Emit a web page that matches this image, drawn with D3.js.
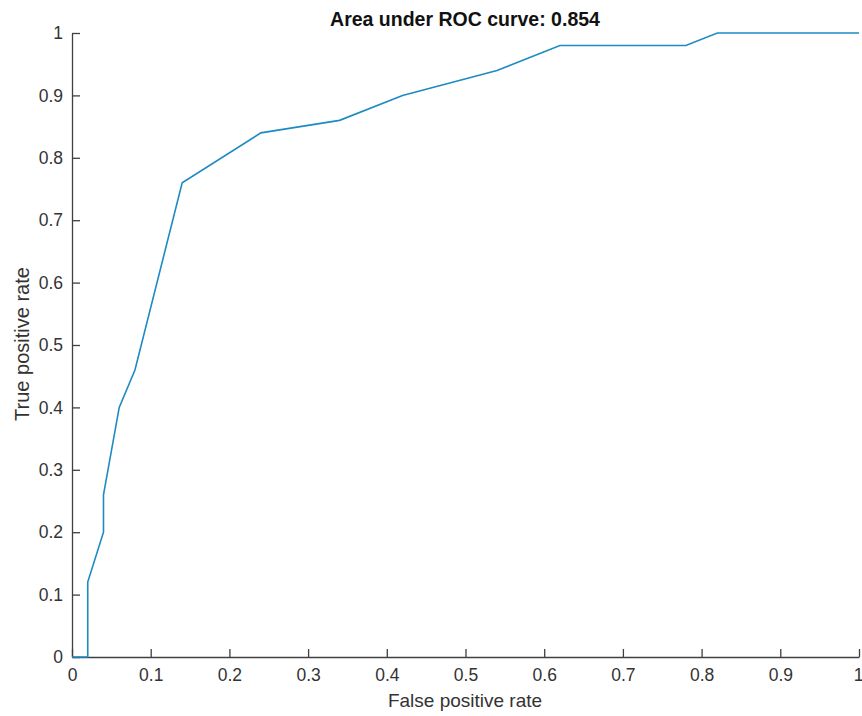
<!DOCTYPE html>
<html><head><meta charset="utf-8">
<script src="https://cdn.jsdelivr.net/npm/d3@7"></script>
<style>body{margin:0;background:#fff;} svg{display:block;}</style>
</head><body>
<svg id="c" width="862" height="716"></svg>
<script>
const fpr = [0, 0.02, 0.02, 0.04, 0.04, 0.06, 0.08, 0.14, 0.24, 0.34, 0.42, 0.54, 0.62, 0.78, 0.82, 1];
const tpr = [0, 0, 0.12, 0.2, 0.26, 0.4, 0.46, 0.76, 0.84, 0.86, 0.9, 0.94, 0.98, 0.98, 1, 1];
const xTicks = [0,0.1,0.2,0.3,0.4,0.5,0.6,0.7,0.8,0.9,1];
const yTicks = [0,0.1,0.2,0.3,0.4,0.5,0.6,0.7,0.8,0.9,1];
const title = "Area under ROC curve: 0.854";
const xLabel = "False positive rate";
const yLabel = "True positive rate";

const svg = d3.select("#c");
const m = {l:72, r:859, t:33, b:657};
const x = d3.scaleLinear().domain([0,1]).range([m.l, m.r]);
const y = d3.scaleLinear().domain([0,1]).range([m.b, m.t]);
const font = "'Liberation Sans', Arial, Helvetica, sans-serif";
const axCol = "#404040";
const fmt = d => d === 0 ? "0" : d === 1 ? "1" : d3.format(".1f")(d);

const xa = svg.append("g").attr("transform", `translate(0,${m.b})`)
  .call(d3.axisBottom(x).tickValues(xTicks).tickFormat(fmt).tickSizeInner(-8).tickSizeOuter(0).tickPadding(12));
const ya = svg.append("g").attr("transform", `translate(${m.l},0)`)
  .call(d3.axisLeft(y).tickValues(yTicks).tickFormat(fmt).tickSizeInner(-8).tickSizeOuter(0).tickPadding(9));
[xa, ya].forEach(a => {
  a.select(".domain").attr("stroke", axCol).attr("stroke-width", 1.3);
  a.selectAll(".tick line").attr("stroke", axCol).attr("stroke-width", 1.3);
  a.selectAll(".tick text").attr("fill", "#333").style("font-family", font).style("font-size", "17.5px");
});
xa.selectAll(".tick text").filter(d => d === 1).attr("text-anchor", "end").attr("dx", "4");

const line = d3.line().x((d,i) => x(fpr[i])).y((d,i) => y(tpr[i]));
svg.append("path").datum(fpr).attr("d", line).attr("fill", "none")
  .attr("stroke", "#1d8bc2").attr("stroke-width", 1.6);

svg.append("text").attr("x", 465).attr("y", 26).attr("text-anchor", "middle")
  .style("font-family", font).style("font-size", "19.5px").style("font-weight", "bold").attr("fill", "#111").text(title);
svg.append("text").attr("x", 465).attr("y", 707).attr("text-anchor", "middle")
  .style("font-family", font).style("font-size", "19px").attr("fill", "#333").text(xLabel);
svg.append("text").attr("transform", `translate(29,344) rotate(-90)`).attr("text-anchor", "middle")
  .style("font-family", font).style("font-size", "20px").attr("fill", "#333").text(yLabel);
</script>
</body></html>
